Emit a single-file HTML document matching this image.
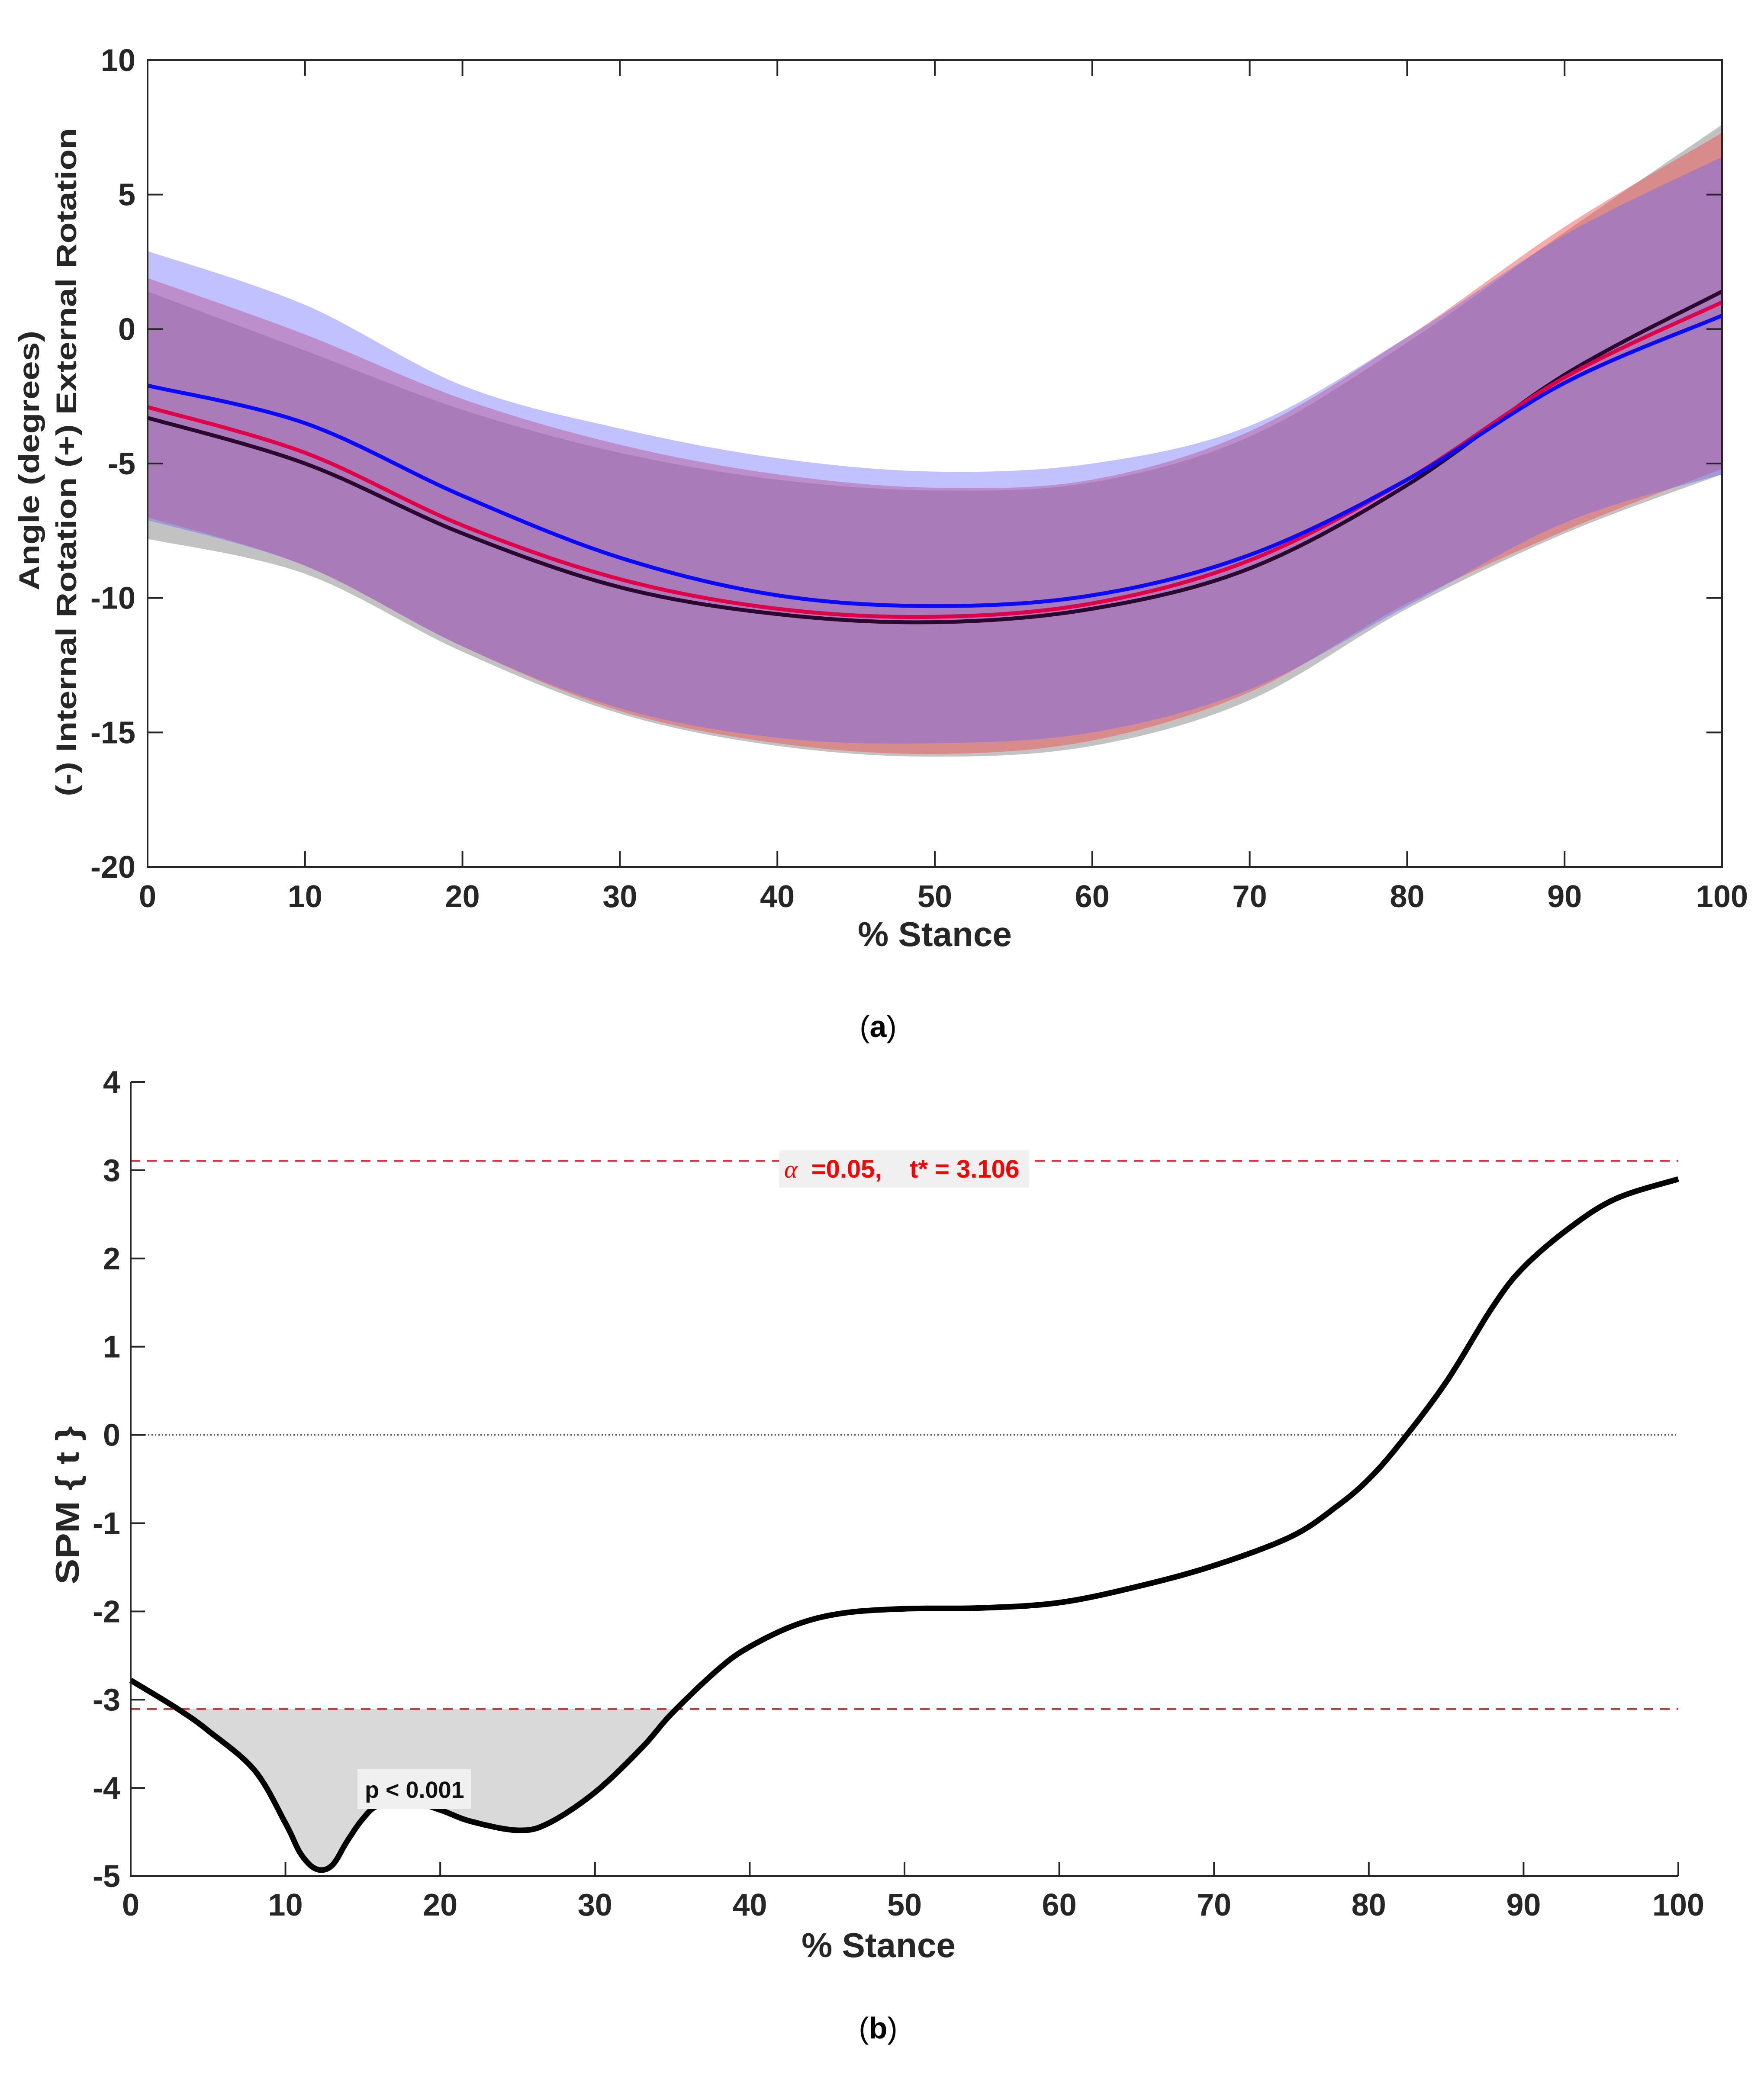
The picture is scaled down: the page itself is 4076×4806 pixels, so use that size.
<!DOCTYPE html>
<html><head><meta charset="utf-8"><style>
html,body{margin:0;padding:0;background:#fff;}
svg{display:block;}
text{font-family:"Liberation Sans",Arial,sans-serif;}
</style></head><body>
<svg id="fig" width="4076" height="4806" viewBox="0 0 4076 4806" xmlns="http://www.w3.org/2000/svg">
<defs>
<clipPath id="clipA"><rect x="341" y="139" width="3638" height="1864"/></clipPath>
</defs>
<g id="chartA"></g>
<g id="chartB"></g>
<text x="2160" y="2186" text-anchor="middle" font-size="80" font-weight="bold" fill="#262626">% Stance</text>
<text transform="translate(90,1064) rotate(-90)" text-anchor="middle" font-size="66" font-weight="bold" fill="#262626" textLength="600" lengthAdjust="spacingAndGlyphs">Angle (degrees)</text>
<text transform="translate(176,1068) rotate(-90)" text-anchor="middle" font-size="66" font-weight="bold" fill="#262626" textLength="1544" lengthAdjust="spacingAndGlyphs">(-) Internal Rotation (+) External Rotation</text>
<text x="2029" y="2396" text-anchor="middle" font-size="70" font-family="Liberation Serif, serif" fill="#000">(<tspan font-weight="bold">a</tspan>)</text>
<text x="2029" y="4710" text-anchor="middle" font-size="70" font-family="Liberation Serif, serif" fill="#000">(<tspan font-weight="bold">b</tspan>)</text>
<g id="overlay">
<rect x="1800" y="2658" width="578" height="86" fill="#f0f0f0"/>
<text x="1812" y="2721" font-size="58" font-weight="bold" fill="#ff0000" xml:space="preserve"><tspan font-family="Liberation Serif, serif" font-style="italic" font-weight="normal">α</tspan>  =0.05,    t* = 3.106</text>
<rect x="826" y="4088" width="262" height="92" fill="#f0f0f0"/>
<text x="843" y="4154" font-size="54" font-weight="bold" fill="#111">p &lt; 0.001</text>
</g>
<text x="2030" y="4500" text-anchor="middle" font-size="80" font-weight="bold" fill="#262626" id="xtb">% Stance</text>
<text transform="translate(182,3478) rotate(-90)" text-anchor="middle" font-size="76" font-weight="bold" fill="#262626" textLength="366" lengthAdjust="spacingAndGlyphs">SPM { t }</text>
</svg>
<script>
// ---------- Chart A data ----------
const xsA = [0,10,20,30,40,50,60,70,80,90,100];
const blueMean  = [-2.1,-3.5,-6.2,-8.5,-9.9,-10.3,-9.9,-8.4,-5.6,-2.0,0.5];
const redMean   = [-2.9,-4.6,-7.3,-9.3,-10.4,-10.7,-10.2,-8.6,-5.6,-1.8,1.0];
const blackMean = [-3.3,-5.0,-7.6,-9.6,-10.6,-10.9,-10.4,-8.9,-5.8,-1.7,1.4];
const blueUpper = [2.9,0.9,-2.1,-3.7,-4.8,-5.3,-5.0,-3.6,-0.3,3.5,6.4];
const blueLower = [-7.1,-8.8,-11.8,-14.1,-15.2,-15.4,-15.0,-13.4,-10.3,-7.2,-5.4];
const redUpper  = [1.9,-0.2,-2.6,-4.3,-5.4,-5.9,-5.6,-3.8,-0.3,3.8,7.3];
const redLower  = [-7.0,-8.8,-11.8,-14.2,-15.4,-15.8,-15.3,-13.5,-10.2,-7.5,-5.2];
const grayUpper = [1.4,-0.8,-3.0,-4.6,-5.6,-6.0,-5.7,-4.0,-0.5,3.6,7.6];
const grayLower = [-7.8,-9.1,-12.0,-14.3,-15.5,-15.9,-15.5,-13.8,-10.4,-7.6,-5.4];
const yTicksA = [10,5,0,-5,-10,-15,-20];
const xTicks = [0,10,20,30,40,50,60,70,80,90,100];

// ---------- Chart B data ----------
const xsB = [0,3,5,8,10,11,12,13,14,15,16,18,20,22,25,27,30,33,35,38,40,43,46,50,55,60,65,70,75,78,80,82,85,88,90,93,96,100];
const spmT = [-2.78,-3.1,-3.35,-3.8,-4.4,-4.75,-4.92,-4.88,-4.6,-4.35,-4.2,-4.15,-4.25,-4.38,-4.48,-4.4,-4.05,-3.55,-3.15,-2.65,-2.4,-2.15,-2.02,-1.97,-1.96,-1.9,-1.72,-1.48,-1.15,-0.8,-0.5,-0.1,0.6,1.45,1.9,2.35,2.68,2.9];
const tCrit = [3.106];
const yTicksB = [4,3,2,1,0,-1,-2,-3,-4,-5];

const NS="http://www.w3.org/2000/svg";
function mk(tag,attrs,parent){const e=document.createElementNS(NS,tag);for(const k in attrs)e.setAttribute(k,attrs[k]);parent.appendChild(e);return e;}
function sample(xs,ys,n){
  const pts=[];
  for(let i=0;i<xs.length-1;i++){
    const x0=xs[Math.max(i-1,0)],y0=ys[Math.max(i-1,0)];
    const x1=xs[i],y1=ys[i],x2=xs[i+1],y2=ys[i+1];
    const x3=xs[Math.min(i+2,xs.length-1)],y3=ys[Math.min(i+2,xs.length-1)];
    for(let s=0;s<n;s++){
      const t=s/n,t2=t*t,t3=t2*t;
      const f=(p0,p1,p2,p3)=>0.5*((2*p1)+(-p0+p2)*t+(2*p0-5*p1+4*p2-p3)*t2+(-p0+3*p1-3*p2+p3)*t3);
      pts.push([f(x0,x1,x2,x3),f(y0,y1,y2,y3)]);
    }
  }
  pts.push([xs[xs.length-1],ys[ys.length-1]]);
  return pts;
}
const svg=document.getElementById('fig');
document.getElementById('xtb').setAttribute('y','4522');

// ===== Chart A =====
const gA=document.getElementById('chartA');
const A={l:341,r:3979,t:139,b:2003};
const xA=v=>A.l+(v/100)*(A.r-A.l);
const yA=v=>A.t+(10-v)/30*(A.b-A.t);
function band(up,lo,fill,name){
  const u=sample(xsA,up,20).map(p=>[xA(p[0]),yA(p[1])]);
  const l=sample(xsA,lo,20).map(p=>[xA(p[0]),yA(p[1])]).reverse();
  const d='M'+u.concat(l).map(p=>p[0].toFixed(1)+','+p[1].toFixed(1)).join('L')+'Z';
  const e=mk('path',{d:d,fill:fill,'clip-path':'url(#clipA)'},gA);
  
  
}
band(grayUpper,grayLower,'#c2c2c2','band-black-sd');
band(redUpper,redLower,'rgba(240,80,80,0.48)','band-red-sd');
band(blueUpper,blueLower,'rgba(100,100,255,0.4)','band-blue-sd');
function line(g,xs,ys,xf,yf,color,w,name){
  const p=sample(xs,ys,20).map(q=>[xf(q[0]),yf(q[1])]);
  const e=mk('path',{d:'M'+p.map(q=>q[0].toFixed(1)+','+q[1].toFixed(1)).join('L'),fill:'none',stroke:color,'stroke-width':w,'stroke-linejoin':'round'},g);
  
  
}
line(gA,xsA,blackMean,xA,yA,'#2a0830',9,'line-black-mean');
line(gA,xsA,redMean,xA,yA,'#e0004a',9,'line-red-mean');
line(gA,xsA,blueMean,xA,yA,'#0a0aff',9,'line-blue-mean');
const boxA=mk('rect',{x:A.l,y:A.t,width:A.r-A.l,height:A.b-A.t,fill:'none',stroke:'#262626','stroke-width':4},gA);


yTicksA.forEach(v=>{
  const y=yA(v);
  mk('line',{x1:A.l,x2:A.l+36,y1:y,y2:y,stroke:'#262626','stroke-width':4},gA);
  mk('line',{x1:A.r,x2:A.r-36,y1:y,y2:y,stroke:'#262626','stroke-width':4},gA);
  const t=mk('text',{x:A.l-28,y:y+25,'text-anchor':'end','font-size':72,'font-weight':'bold',fill:'#262626'},gA);
  t.textContent=v;
  
  
});
xTicks.forEach(v=>{
  const x=xA(v);
  mk('line',{x1:x,x2:x,y1:A.b,y2:A.b-36,stroke:'#262626','stroke-width':4},gA);
  mk('line',{x1:x,x2:x,y1:A.t,y2:A.t+36,stroke:'#262626','stroke-width':4},gA);
  const t=mk('text',{x:x,y:2096,'text-anchor':'middle','font-size':72,'font-weight':'bold',fill:'#262626'},gA);
  t.textContent=v;
  
  
});

// ===== Chart B =====
const gB=document.getElementById('chartB');
const B={l:302,r:3878,t:2500,b:4335};
const xB=v=>B.l+(v/100)*(B.r-B.l);
const yB=v=>B.t+(4-v)/9*(B.b-B.t);
const thrY=yB(-tCrit[0]);
const defs=svg.querySelector('defs');
const cp=mk('clipPath',{id:'clipB'},defs);
mk('rect',{x:B.l,y:thrY,width:B.r-B.l,height:B.b-thrY},cp);
const pts=sample(xsB,spmT,12).map(q=>[xB(q[0]),yB(q[1])]);
const shade=mk('path',{d:'M'+B.l+','+thrY+'L'+pts.map(q=>q[0].toFixed(1)+','+q[1].toFixed(1)).join('L')+'L'+B.r+','+thrY+'Z',fill:'#d9d9d9','clip-path':'url(#clipB)'},gB);


const zl=mk('line',{x1:B.l,x2:B.r,y1:yB(0),y2:yB(0),stroke:'#555','stroke-width':3,'stroke-dasharray':'3 5'},gB);


[tCrit[0],-tCrit[0]].forEach(v=>{
  const l=mk('line',{x1:B.l,x2:B.r,y1:yB(v),y2:yB(v),stroke:'#e8283c','stroke-width':4,'stroke-dasharray':'22 16'},gB);
  
  
});
line(gB,xsB,spmT,xB,yB,'#000',13,'spm-t-curve');
const ax=mk('path',{d:`M${B.l},${B.t}L${B.l},${B.b}L${B.r},${B.b}`,fill:'none',stroke:'#262626','stroke-width':4},gB);


yTicksB.forEach(v=>{
  const y=yB(v);
  mk('line',{x1:B.l,x2:B.l+33,y1:y,y2:y,stroke:'#262626','stroke-width':4},gB);
  const t=mk('text',{x:B.l-24,y:y+25,'text-anchor':'end','font-size':72,'font-weight':'bold',fill:'#262626'},gB);
  t.textContent=v;
  
  
});
xTicks.forEach(v=>{
  const x=xB(v);
  mk('line',{x1:x,x2:x,y1:B.b,y2:B.b-33,stroke:'#262626','stroke-width':4},gB);
  const t=mk('text',{x:x,y:4426,'text-anchor':'middle','font-size':72,'font-weight':'bold',fill:'#262626'},gB);
  t.textContent=v;
  
  
});
svg.appendChild(document.getElementById('overlay'));
</script>
</body></html>
